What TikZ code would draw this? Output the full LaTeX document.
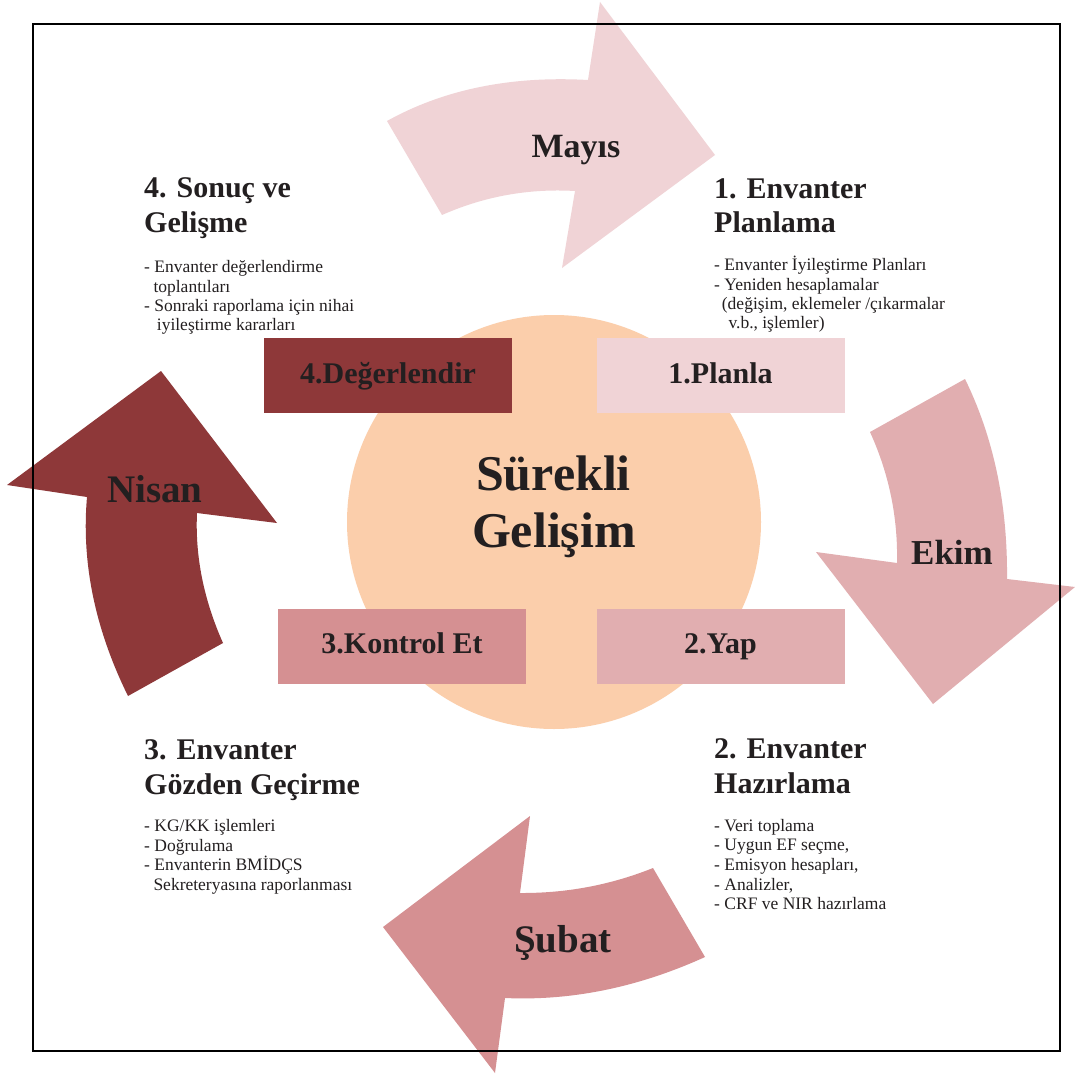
\documentclass[tikz,border=0pt]{standalone}
\usepackage{fontspec}
\setmainfont{Liberation Serif}
\definecolor{cA}{HTML}{F0D3D6}
\definecolor{cB}{HTML}{E1AEB0}
\definecolor{cC}{HTML}{D59092}
\definecolor{cD}{HTML}{8E3839}
\definecolor{peach}{HTML}{FBCEAB}
\definecolor{ink}{HTML}{231F20}
\begin{document}
\begin{tikzpicture}[x=1pt,y=-1pt,
  txt/.style={inner sep=0pt, anchor=base west, text=ink},
  hd/.style={txt, font=\fontsize{30}{30}\selectfont\bfseries},
  bl/.style={txt, font=\fontsize{17.5}{18}\selectfont},
  stagebox/.style={draw=none, inner sep=0pt, minimum width=248pt, minimum height=75pt},
  lbl/.style={inner sep=0pt, anchor=base, text=ink, font=\fontsize{30}{30}\selectfont\bfseries},
  month/.style={inner sep=0pt, anchor=base, text=ink, font=\fontsize{#1}{#1}\selectfont\bfseries}]
\useasboundingbox (0,0) rectangle (1075,1075);
\fill[white] (0,0) rectangle (1075,1075);

% centre circle
\node[circle, fill=peach, minimum size=414pt, inner sep=0pt] (circ) at (554,522) {};

% stage boxes
\node[stagebox, fill=cD] (b4) at (388.2,375.2) {};
\node[stagebox, fill=cA] (b1) at (720.8,375.5) {};
\node[stagebox, fill=cC] (b3) at (401.9,646.3) {};
\node[stagebox, fill=cB] (b2) at (720.8,646.3) {};
\node[lbl] (l4) at (388,383.3) {4.Değerlendir};
\node[lbl] (l1) at (720.5,383.3) {1.Planla};
\node[lbl] (l3) at (402,653.3) {3.Kontrol Et};
\node[lbl] (l2) at (720.5,653.3) {2.Yap};

% centre text
\node[month=50] (s1) at (553.5,490) {Sürekli};
\node[month=50] (s2) at (554,547.3) {Gelişim};

% Mayis arrow
\fill[cA] (387,121) .. controls (444,89.3) and (511,75.7) .. (588,80)
  -- (600,2) -- (715,155) -- (562,268) -- (575,191)
  .. controls (528.7,188.3) and (484.3,196.3) .. (442,215) -- cycle;
% Ekim arrow
\fill[cB] (965,379) -- (870,432) .. controls (889,473.7) and (898,517.3) .. (897,563)
  -- (816,552) -- (933,704) -- (1075,587) -- (1007,579)
  .. controls (1007.7,504.3) and (993.7,437.7) .. (965,379) -- cycle;
% Subat arrow
\fill[cC] (653,868) -- (705,957) .. controls (638.3,987.3) and (571.7,1001) .. (505,998)
  -- (495,1073) -- (383,927) -- (530,816) -- (520,893)
  .. controls (566.3,893.3) and (610.7,885) .. (653,868) -- cycle;
% Nisan arrow
\fill[cD] (128,696) -- (223,643) .. controls (203.7,599.7) and (195,556.3) .. (197,513)
  -- (277,523) -- (161,371) -- (7,485) -- (87,497)
  .. controls (81.3,562.7) and (95,629) .. (128,696) -- cycle;

\node[month=34] (mA) at (576,157.3) {Mayıs};
\node[month=35] (mB) at (952,564.3) {Ekim};
\node[month=39] (mC) at (563,952.7) {Şubat};
\node[month=39] (mD) at (155,502.7) {Nisan};

% block 4
\node[hd] (h4a) at (144,198) {4. Sonuç ve};
\node[hd] (h4b) at (144,232.7) {Gelişme};
\node[bl] (t4a) at (144,272.7) {- Envanter değerlendirme};
\node[bl] (t4b) at (153.3,292) {toplantıları};
\node[bl] (t4c) at (144,311.3) {- Sonraki raporlama için nihai};
\node[bl] (t4d) at (156.7,330.7) {iyileştirme kararları};

% block 1
\node[hd] (h1a) at (714,198.3) {1. Envanter};
\node[hd] (h1b) at (714,232.7) {Planlama};
\node[bl] (t1a) at (714,270.7) {- Envanter İyileştirme Planları};
\node[bl] (t1b) at (714,290) {- Yeniden hesaplamalar};
\node[bl] (t1c) at (721.7,309) {(değişim, eklemeler /çıkarmalar};
\node[bl] (t1d) at (728.3,328.3) {v.b., işlemler)};

% block 3
\node[hd] (h3a) at (144,759) {3. Envanter};
\node[hd] (h3b) at (144,794) {Gözden Geçirme};
\node[bl] (t3a) at (144,831.5) {- KG/KK işlemleri};
\node[bl] (t3b) at (144,851) {- Doğrulama};
\node[bl] (t3c) at (144,870.5) {- Envanterin BMİDÇS};
\node[bl] (t3d) at (153.3,890) {Sekreteryasına raporlanması};

% block 2
\node[hd] (h2a) at (714,758.5) {2. Envanter};
\node[hd] (h2b) at (714,793.5) {Hazırlama};
\node[bl] (t2a) at (714,831) {- Veri toplama};
\node[bl] (t2b) at (714,850.7) {- Uygun EF seçme,};
\node[bl] (t2c) at (714,870.4) {- Emisyon hesapları,};
\node[bl] (t2d) at (714,890.1) {- Analizler,};
\node[bl] (t2e) at (714,909.8) {- CRF ve NIR hazırlama};

% frame
\draw[line width=1.6pt, black] (33,24) rectangle (1060,1051);
\end{tikzpicture}
\end{document}
